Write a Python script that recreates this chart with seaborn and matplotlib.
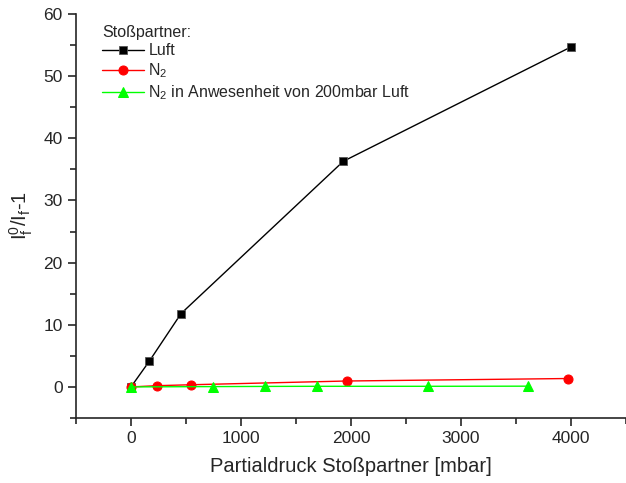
import matplotlib
matplotlib.use("Agg")
import matplotlib.pyplot as plt
from matplotlib.ticker import MultipleLocator
import seaborn as sns
import pandas as pd

# Daten
luft_x = [0, 165, 455, 1930, 4000]
luft_y = [0, 4.1, 11.8, 36.3, 54.7]

n2_x = [0, 240, 550, 1960, 3970]
n2_y = [0, 0.2, 0.35, 0.95, 1.35]

n2luft_x = [0, 745, 1220, 1690, 2700, 3605]
n2luft_y = [0, 0.05, 0.08, 0.1, 0.1, 0.12]

sns.set_style("ticks")
plt.rcParams['font.family'] = ['Liberation Sans', 'DejaVu Sans']
plt.rcParams['mathtext.fontset'] = 'custom'
plt.rcParams['mathtext.rm'] = 'Liberation Sans'
plt.rcParams['mathtext.it'] = 'Liberation Sans'

fig = plt.figure(figsize=(6.26, 4.83), dpi=100)
ax = fig.add_axes([0.1214, 0.1346, 0.8786, 0.8364])

df_luft = pd.DataFrame({'x': luft_x, 'y': luft_y})
df_n2 = pd.DataFrame({'x': n2_x, 'y': n2_y})
df_n2l = pd.DataFrame({'x': n2luft_x, 'y': n2luft_y})

sns.lineplot(data=df_luft, x='x', y='y', ax=ax, color='black', lw=1,
             marker='s', markersize=5.5, markeredgecolor='#555555',
             markeredgewidth=0.6, label='Luft', sort=False)
sns.lineplot(data=df_n2, x='x', y='y', ax=ax, color='red', lw=1,
             marker='o', markersize=6.5, markeredgecolor='red',
             label=r'N$_2$', sort=False)
sns.lineplot(data=df_n2l, x='x', y='y', ax=ax, color='#00ff00', lw=1,
             marker='^', markersize=7, markeredgecolor='#00ff00',
             label=r'N$_2$ in Anwesenheit von 200mbar Luft', sort=False)

ax.set_xlim(-500, 4500)
ax.set_ylim(-5, 60)
ax.xaxis.set_major_locator(MultipleLocator(1000))
ax.xaxis.set_minor_locator(MultipleLocator(500))
ax.yaxis.set_major_locator(MultipleLocator(10))
ax.yaxis.set_minor_locator(MultipleLocator(5))
ax.tick_params(which='major', direction='out', length=6, width=1.2, labelsize=12.5)
ax.tick_params(which='minor', direction='out', length=4, width=1.2)
for s in ['top', 'right']:
    ax.spines[s].set_visible(False)
for s in ['left', 'bottom']:
    ax.spines[s].set_linewidth(1.2)

ax.set_xlabel('Partialdruck Stoßpartner [mbar]', fontsize=14.5, labelpad=8)
ax.set_ylabel(r'I$_f^0$/I$_f$-1', fontsize=14.5, labelpad=6)

leg = ax.legend(title='Stoßpartner:', loc='upper left', bbox_to_anchor=(0.027, 1.0),
                frameon=False, fontsize=11.5, title_fontsize=11.5,
                handlelength=2.6, handletextpad=0.3, labelspacing=0.2,
                borderpad=0.2)
leg._legend_box.align = 'left'

fig.savefig('out.png', dpi=100)
